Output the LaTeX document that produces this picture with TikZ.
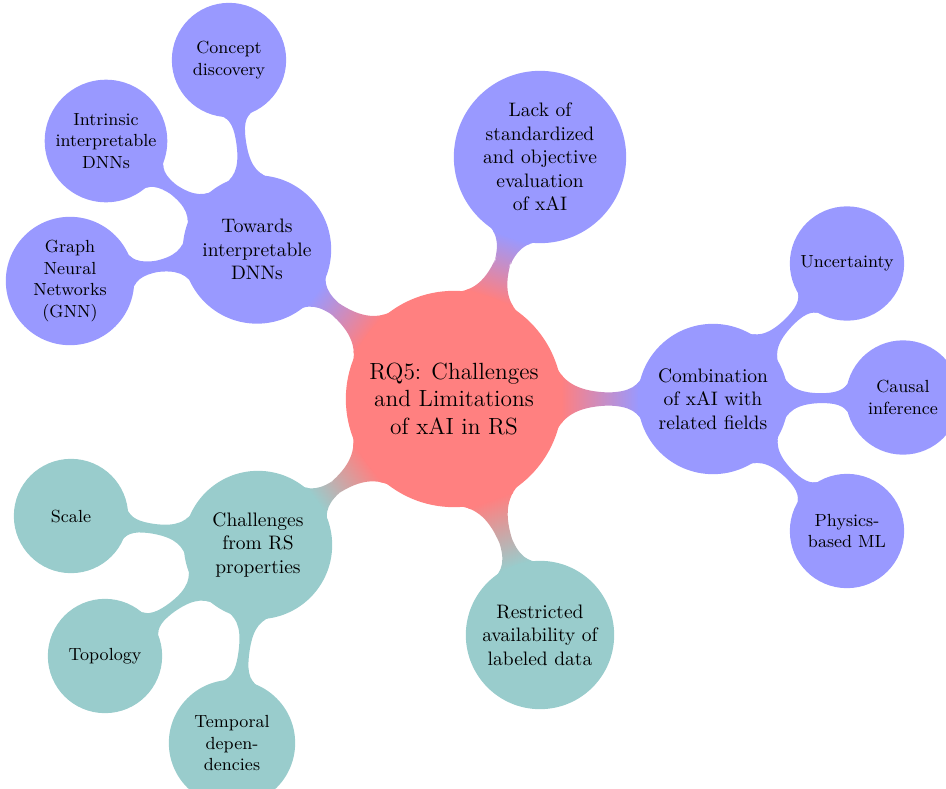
\documentclass[tikz,border=0pt]{standalone}
\usetikzlibrary{mindmap}
\colorlet{rootcol}{red!50}
\colorlet{bluecol}{blue!40}
\colorlet{tealcol}{teal!40}
\pgfdeclarelayer{background}
\pgfsetlayers{background,main}
\begin{document}
\begin{tikzpicture}[x=0.01802cm, y=-0.01802cm, mindmap,
  bubble/.style={concept, circle, text width=, align=center, inner sep=1pt, text=black},
  rootbubble/.style={bubble, concept color=rootcol, fill=rootcol, font=\rmfamily\large, minimum size=3.856cm},
  bigblue/.style={bubble, concept color=bluecol, fill=bluecol, font=\rmfamily\normalsize, minimum size=#1},
  bigteal/.style={bubble, concept color=tealcol, fill=tealcol, font=\rmfamily\normalsize, minimum size=#1},
  smallblue/.style={bubble, concept color=bluecol, fill=bluecol, font=\rmfamily\small, minimum size=#1},
  smallteal/.style={bubble, concept color=tealcol, fill=tealcol, font=\rmfamily\small, minimum size=#1},
  rb/.style={circle connection bar switch color=from (rootcol) to (bluecol)},
  rt/.style={circle connection bar switch color=from (rootcol) to (tealcol)},
  bb/.style={circle connection bar switch color=from (bluecol) to (bluecol)},
  tt/.style={circle connection bar switch color=from (tealcol) to (tealcol)}]
  \useasboundingbox (0,0) rectangle (946,789);

  % central question
  \node[rootbubble] (root) at (454,399) {RQ5: Challenges\\and Limitations\\of xAI in RS};

  % first ring
  \node[bigblue=2.631cm] (dnn) at (257,249.5) {Towards\\interpretable\\DNNs};
  \node[bigblue=3.063cm] (eval) at (540,157) {Lack of\\standardized\\and objective\\evaluation\\of xAI};
  \node[bigblue=2.667cm] (comb) at (713,399) {Combination\\of xAI with\\related fields};
  \node[bigteal=2.631cm] (data) at (540,635) {Restricted\\availability of\\labeled data};
  \node[bigteal=2.631cm] (rsprop) at (258,545) {Challenges\\from RS\\properties};

  % second ring: interpretable DNNs
  \node[smallblue=2.018cm] (concept) at (229,60) {Concept\\discovery};
  \node[smallblue=2.054cm] (intrinsic) at (106,141) {Intrinsic\\interpretable\\DNNs};
  \node[smallblue=2.271cm] (gnn) at (70,281) {Graph\\Neural\\Networks\\(GNN)};

  % second ring: related fields
  \node[smallblue=2.018cm] (uncert) at (847,263.5) {Uncertainty};
  \node[smallblue=2.018cm] (causal) at (903,397.5) {Causal\\inference};
  \node[smallblue=2.018cm] (physics) at (847,531) {Physics-\\based ML};

  % second ring: RS properties
  \node[smallteal=2.018cm] (scale) at (71,516) {Scale};
  \node[smallteal=2.018cm] (topo) at (105,656) {Topology};
  \node[smallteal=2.234cm] (temporal) at (232,743) {Temporal\\depen-\\dencies};

  % connection bars
  \begin{pgfonlayer}{background}
    \path (root) to[rb] (dnn);
    \path (root) to[rb] (eval);
    \path (root) to[rb] (comb);
    \path (root) to[rt] (data);
    \path (root) to[rt] (rsprop);
    \path (dnn) to[bb] (concept);
    \path (dnn) to[bb] (intrinsic);
    \path (dnn) to[bb] (gnn);
    \path (comb) to[bb] (uncert);
    \path (comb) to[bb] (causal);
    \path (comb) to[bb] (physics);
    \path (rsprop) to[tt] (scale);
    \path (rsprop) to[tt] (topo);
    \path (rsprop) to[tt] (temporal);
  \end{pgfonlayer}
\end{tikzpicture}
\end{document}
